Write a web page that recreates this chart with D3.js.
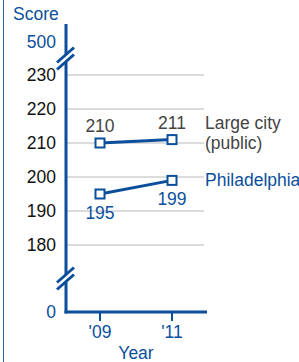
<!DOCTYPE html>
<html>
<head>
<meta charset="utf-8">
<script src="https://cdn.jsdelivr.net/npm/d3@7"></script>
<style>
  body { margin: 0; background: #fff; overflow: hidden; }
  svg text { font-family: "Liberation Sans", Arial, sans-serif; }
</style>
</head>
<body>
<svg id="chart"></svg>
<script>
// data
const years = ["'09", "'11"];
const largeCity = [210, 211];
const philadelphia = [195, 199];
const yTicks = [180, 190, 200, 210, 220, 230];
const seriesNames = [["Large city", "(public)"], ["Philadelphia"]];

const width = 299, height = 362;
const blue = '#0b4f9c', gray = '#444', grid = '#dcdcdc';
const fs = 17.5;

const svg = d3.select('#chart')
    .attr('width', width)
    .attr('height', height);

// left border
svg.append('line')
    .attr('x1', 3.5).attr('x2', 3.5)
    .attr('y1', 0).attr('y2', height)
    .attr('stroke', '#2d63a8')
    .attr('stroke-width', 1);

const axisX = 66, xEnd = 207;

// piecewise scale with broken axis: 0 at bottom, 500 at top
const yScale = d3.scaleLinear()
    .domain([0, 180, 230, 500])
    .range([312, 245, 75, 42]);

const xScale = d3.scalePoint()
    .domain(years)
    .range([100, 172]);

// gridlines
svg.append('g').selectAll('line')
    .data(yTicks)
  .join('line')
    .attr('x1', axisX).attr('x2', 204)
    .attr('y1', d => yScale(d)).attr('y2', d => yScale(d))
    .attr('stroke', grid)
    .attr('stroke-width', 2);

// y tick labels
svg.append('g').selectAll('text')
    .data(yTicks)
  .join('text')
    .attr('x', 56)
    .attr('y', d => yScale(d))
    .attr('dy', '0.35em')
    .attr('text-anchor', 'end')
    .attr('font-size', fs)
    .attr('fill', '#111')
    .text(d => d);

svg.append('g').selectAll('text')
    .data([0, 500])
  .join('text')
    .attr('x', 56)
    .attr('y', d => yScale(d))
    .attr('dy', '0.35em')
    .attr('text-anchor', 'end')
    .attr('font-size', fs)
    .attr('fill', blue)
    .text(d => d);

svg.append('text')
    .attr('x', 13).attr('y', 20)
    .attr('font-size', fs)
    .attr('fill', blue)
    .text('Score');

// y axis line
svg.append('line')
    .attr('x1', axisX).attr('x2', axisX)
    .attr('y1', 24).attr('y2', yScale(0) + 1.5)
    .attr('stroke', blue)
    .attr('stroke-width', 3);

// x axis line
svg.append('line')
    .attr('x1', axisX - 1.5).attr('x2', xEnd)
    .attr('y1', yScale(0)).attr('y2', yScale(0))
    .attr('stroke', blue)
    .attr('stroke-width', 3);

// axis breaks
function axisBreak(cy) {
  const g = svg.append('g');
  g.append('polygon')
      .attr('points', `${axisX - 9},${cy + 9} ${axisX + 9},${cy - 7} ${axisX + 9},${cy - 1} ${axisX - 9},${cy + 15}`)
      .attr('fill', '#fff');
  [0, 7].forEach(off => {
    g.append('line')
        .attr('x1', axisX - 9).attr('y1', cy + 8 + off)
        .attr('x2', axisX + 8).attr('y2', cy - 7 + off)
        .attr('stroke', blue)
        .attr('stroke-width', 3);
  });
}
axisBreak((yScale(230) + yScale(500)) / 2 - 4);
axisBreak((yScale(0) + yScale(180)) / 2 - 4);

// x ticks
svg.append('g').selectAll('line')
    .data(years)
  .join('line')
    .attr('x1', d => xScale(d)).attr('x2', d => xScale(d))
    .attr('y1', yScale(0)).attr('y2', yScale(0) + 9)
    .attr('stroke', blue)
    .attr('stroke-width', 2);

svg.append('g').selectAll('text')
    .data(years)
  .join('text')
    .attr('x', d => xScale(d))
    .attr('y', yScale(0) + 26)
    .attr('text-anchor', 'middle')
    .attr('font-size', fs)
    .attr('fill', blue)
    .text(d => d);

svg.append('text')
    .attr('x', (xScale(years[0]) + xScale(years[1])) / 2)
    .attr('y', 359)
    .attr('text-anchor', 'middle')
    .attr('font-size', fs)
    .attr('fill', blue)
    .text('Year');

// series
const line = d3.line()
    .x((d, i) => xScale(years[i]))
    .y(d => yScale(d));

const series = [
  {values: largeCity, color: gray, labelDy: -11, name: seriesNames[0]},
  {values: philadelphia, color: blue, labelDy: 25, name: seriesNames[1]}
];

series.forEach(s => {
  svg.append('path')
      .datum(s.values)
      .attr('d', line)
      .attr('fill', 'none')
      .attr('stroke', blue)
      .attr('stroke-width', 3);

  svg.append('g').selectAll('rect')
      .data(s.values)
    .join('rect')
      .attr('x', (d, i) => xScale(years[i]) - 4.5)
      .attr('y', d => yScale(d) - 4.5)
      .attr('width', 9).attr('height', 9)
      .attr('fill', '#fff')
      .attr('stroke', blue)
      .attr('stroke-width', 2);

  svg.append('g').selectAll('text')
      .data(s.values)
    .join('text')
      .attr('x', (d, i) => xScale(years[i]))
      .attr('y', d => yScale(d) + s.labelDy)
      .attr('text-anchor', 'middle')
      .attr('font-size', fs)
      .attr('fill', s.color)
      .text(d => d);

  const last = s.values[s.values.length - 1];
  svg.append('text')
      .attr('x', 205)
      .attr('y', yScale(last) + (s.name.length > 1 ? -11 : 6))
      .attr('font-size', fs)
      .attr('fill', s.color)
      .selectAll('tspan')
      .data(s.name)
    .join('tspan')
      .attr('x', 205)
      .attr('dy', (d, i) => i ? 20 : 0)
      .text(d => d);
});
</script>
</body>
</html>
